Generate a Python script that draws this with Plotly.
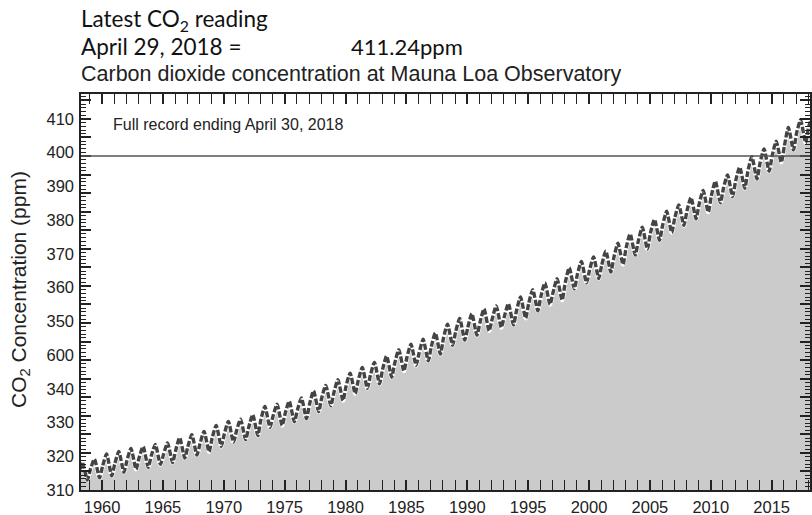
import plotly.graph_objects as go
import numpy as np

# ---- data (ppm) ----
years = list(range(1959, 2018))
jan_vals = [315.6, 316.4, 317.0, 317.9, 318.7, 319.2, 319.5, 320.6, 321.6, 322.4,
            324.0, 325.1, 325.9, 326.8, 328.9, 329.9, 330.6, 331.5, 333.1, 334.8,
            336.2, 338.0, 339.5, 340.9, 342.5, 344.2, 345.7, 346.9, 348.6, 350.9,
            352.6, 353.8, 355.1, 356.0, 356.7, 358.3, 360.2, 362.1, 363.2, 365.8,
            368.1, 369.2, 370.6, 372.7, 375.2, 377.0, 379.2, 381.3, 383.3, 385.2,
            387.0, 389.2, 391.3, 393.3, 395.8, 398.0, 400.0, 402.6, 406.1]
may_vals = [318.3, 319.7, 320.4, 321.2, 321.7, 322.3, 322.7, 324.1, 324.9, 325.8,
            327.4, 328.5, 329.1, 330.3, 332.5, 333.1, 333.9, 334.8, 336.7, 338.2,
            339.7, 341.5, 343.0, 344.4, 346.1, 347.8, 349.3, 350.6, 352.3, 354.7,
            356.2, 357.5, 358.8, 359.6, 360.2, 362.0, 364.0, 365.8, 366.9, 369.9,
            371.6, 372.8, 374.4, 376.5, 379.0, 380.8, 382.9, 385.1, 386.8, 388.8,
            390.7, 393.2, 394.9, 397.0, 399.8, 401.9, 404.0, 407.7, 409.7]
oct_vals = [313.3, 313.8, 314.8, 315.6, 316.1, 316.9, 317.4, 318.6, 319.4, 320.3,
            321.8, 322.9, 323.6, 324.7, 326.9, 327.4, 328.4, 329.2, 331.1, 332.7,
            334.1, 336.0, 337.4, 338.6, 340.4, 342.1, 343.6, 344.8, 346.6, 349.0,
            350.4, 351.7, 352.9, 353.8, 354.5, 356.3, 358.3, 360.0, 361.2, 364.2,
            365.8, 367.0, 368.7, 370.8, 373.3, 374.9, 377.3, 379.4, 381.3, 383.1,
            384.9, 387.4, 389.1, 391.3, 393.8, 395.9, 398.3, 401.6, 403.6]
start_points = [(1958, 3, 315.7), (1958, 5, 317.5), (1958, 10, 312.7)]
end_points = [(2018, 1, 407.9), (2018, 4, 410.2)]

y_tick_labels = ["310", "320", "330", "340", "600", "350", "360", "370",
                 "380", "390", "400", "410"]
reference_level = 400

# ---- build series ----
pts = list(start_points)
for i, yr in enumerate(years):
    pts.append((yr, 1, jan_vals[i]))
    pts.append((yr, 5, may_vals[i]))
    pts.append((yr, 10, oct_vals[i]))
pts += end_points
xs = [yr + (m - 0.5) / 12 for yr, m, v in pts]
ys = [v for yr, m, v in pts]

W, H = 812, 515
L, R, T, B = 81, 2, 94, 25
pw, ph = W - L - R, H - T - B


def px(x):
    return (x - L) / pw


def py(y):
    return (H - B - y) / ph


fig = go.Figure()
fig.add_trace(go.Scatter(x=xs, y=ys, mode="lines", fill="tozeroy",
                         fillcolor="#cbcbcb", line=dict(width=0, color="#cbcbcb"),
                         line_shape="spline", hoverinfo="skip", showlegend=False))
fig.add_trace(go.Scatter(x=xs, y=ys, mode="lines",
                         line=dict(width=4.5, color="white", shape="spline", smoothing=0.6),
                         hoverinfo="skip", showlegend=False))
fig.add_trace(go.Scatter(x=xs, y=ys, mode="lines",
                         line=dict(width=3.4, color="#444444", dash="6px,2px",
                                   shape="spline", smoothing=0.6),
                         showlegend=False))
# invisible trace to activate overlay axis for labels
fig.add_trace(go.Scatter(x=[xs[0]], y=[ys[0]], yaxis="y2", mode="markers",
                         marker=dict(opacity=0), hoverinfo="skip", showlegend=False))

fig.add_shape(type="line", xref="paper", yref="y", x0=0, x1=1,
              y0=reference_level, y1=reference_level,
              line=dict(color="#555555", width=1.3), layer="above")

yr_range = [310, 416.7]
label_pos = list(np.linspace(310, 410, len(y_tick_labels)))

axis_font = dict(family="Liberation Sans, Arial, sans-serif", size=16.5, color="#222222")
sans = "Liberation Sans, Arial, sans-serif"
cal = "Lato, sans-serif"

fig.update_layout(
    width=W, height=H,
    margin=dict(l=L, r=R, t=T, b=B),
    paper_bgcolor="white", plot_bgcolor="white",
    xaxis=dict(range=[1958.27, 2018.15], tick0=1960, dtick=5, ticks="inside",
               ticklen=10, tickwidth=1.5, tickcolor="#222", showline=True,
               linecolor="#222", linewidth=1.5, mirror="allticks", showgrid=False,
               zeroline=False, tickfont=axis_font, ticklabelstandoff=1,
               automargin=False,
               minor=dict(dtick=1, ticks="inside", ticklen=5, tickwidth=1.3,
                          tickcolor="#222", showgrid=False)),
    yaxis=dict(range=yr_range, tick0=310, dtick=5, ticks="inside", ticklen=10,
               tickwidth=1.5, tickcolor="#222", showline=True, linecolor="#222",
               linewidth=1.5, mirror="allticks", showgrid=False, zeroline=False,
               showticklabels=False, automargin=False,
               minor=dict(dtick=1, ticks="inside", ticklen=5, tickwidth=1.2,
                          tickcolor="#222", showgrid=False)),
    yaxis2=dict(range=yr_range, overlaying="y", side="left", anchor="x",
                tickmode="array", tickvals=label_pos, ticktext=y_tick_labels,
                ticks="", showline=False, showgrid=False, zeroline=False,
                tickfont=axis_font, ticklabelstandoff=6, automargin=False),
    annotations=[
        dict(text="CO<sub>2</sub> Concentration (ppm)", xref="paper", yref="paper",
             x=px(20), y=py(290), textangle=-90, showarrow=False,
             xanchor="center", yanchor="middle",
             font=dict(family=sans, size=21, color="#222")),
        dict(text="Latest CO<sub>2</sub> reading", xref="paper", yref="paper",
             x=px(79), y=py(20), showarrow=False, xanchor="left", yanchor="middle",
             font=dict(family=cal, size=22.5, color="#111")),
        dict(text="April 29, 2018 =", xref="paper", yref="paper",
             x=px(79), y=py(47), showarrow=False, xanchor="left", yanchor="middle",
             font=dict(family=cal, size=22.5, color="#111")),
        dict(text="411.24ppm", xref="paper", yref="paper",
             x=px(349), y=py(47), showarrow=False, xanchor="left", yanchor="middle",
             font=dict(family=cal, size=22, color="#111")),
        dict(text="Carbon dioxide concentration at Mauna Loa Observatory",
             xref="paper", yref="paper", x=px(79), y=py(74), showarrow=False,
             xanchor="left", yanchor="middle",
             font=dict(family=sans, size=21.5, color="#222")),
        dict(text="Full record ending April 30, 2018", xref="paper", yref="paper",
             x=px(111), y=py(124), showarrow=False, xanchor="left", yanchor="middle",
             font=dict(family=sans, size=16, color="#222")),
    ],
)

fig.write_html("out.html", config={"displayModeBar": False},
               post_script="document.body.style.margin='0';")
